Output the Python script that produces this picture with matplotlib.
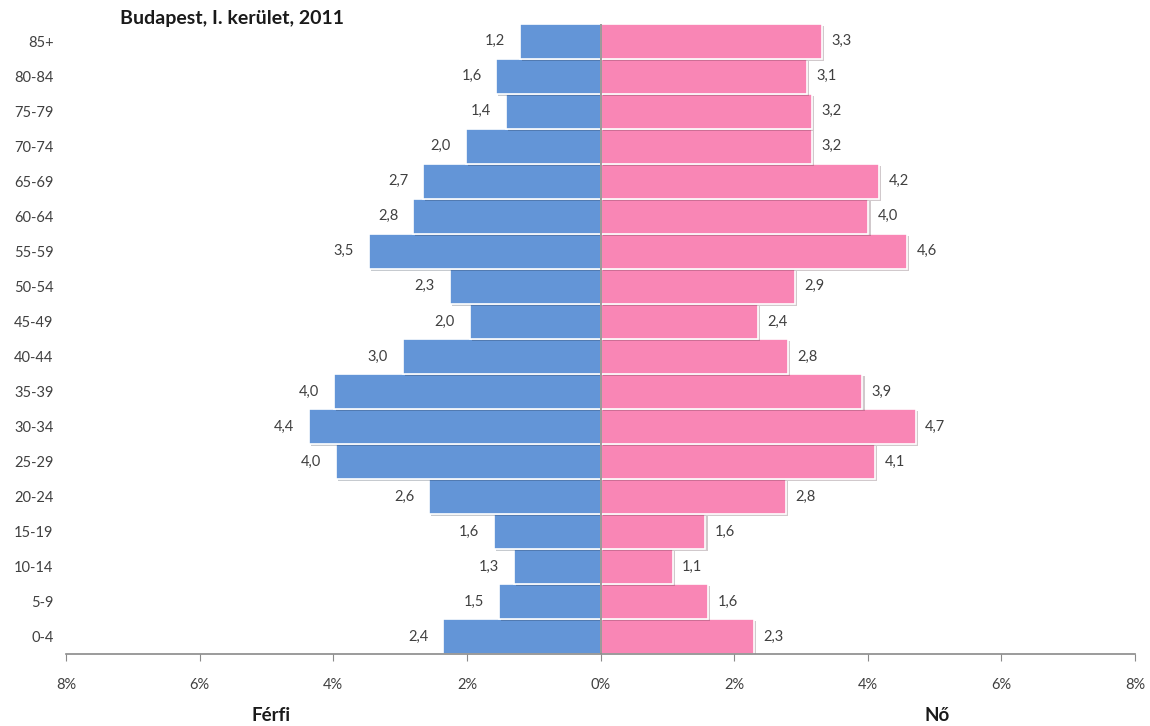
import matplotlib.pyplot as plt
import matplotlib.patheffects as pe

plt.rcParams['font.family'] = ['Lato', 'DejaVu Sans']

korcsoport = ['0-4', '5-9', '10-14', '15-19', '20-24', '25-29', '30-34', '35-39',
              '40-44', '45-49', '50-54', '55-59', '60-64', '65-69', '70-74',
              '75-79', '80-84', '85+']
ferfi = [2.36, 1.52, 1.30, 1.60, 2.57, 3.96, 4.36, 3.99, 2.96, 1.96, 2.26,
         3.47, 2.81, 2.66, 2.02, 1.42, 1.56, 1.21]
no = [2.30, 1.61, 1.08, 1.57, 2.78, 4.11, 4.72, 3.92, 2.81, 2.36, 2.91,
      4.59, 4.01, 4.17, 3.17, 3.17, 3.09, 3.32]
xticks = [-8, -6, -4, -2, 0, 2, 4, 6, 8]

kek = '#6395D7'
rozsa = '#F986B5'
szoveg = '#404040'

fig = plt.figure(figsize=(11.5, 7.26), dpi=100)
ax = fig.add_axes([0.0574, 0.0992, 0.9296, 0.868])

arnyek = [pe.SimplePatchShadow(offset=(1.5, -1.5), alpha=0.25), pe.Normal()]
y = range(len(korcsoport))
b1 = ax.barh(y, [-v for v in ferfi], height=1.0, color=kek, edgecolor='white', linewidth=1.2)
b2 = ax.barh(y, no, height=1.0, color=rozsa, edgecolor='white', linewidth=1.2)
for b in list(b1) + list(b2):
    b.set_path_effects(arnyek)

for i, (f, n) in enumerate(zip(ferfi, no)):
    ax.text(-f - 0.22, i, f"{f:.1f}".replace('.', ','), ha='right', va='center',
            fontsize=10.5, color=szoveg)
    ax.text(n + 0.14, i, f"{n:.1f}".replace('.', ','), ha='left', va='center',
            fontsize=10.5, color=szoveg)

ax.axvline(0, color='#8a8a8a', linewidth=1.2, zorder=5)

ax.set_xlim(-8, 8)
ax.set_ylim(-0.5, len(korcsoport) - 0.5)
ax.set_xticks(xticks)
ax.set_xticklabels([f"{abs(t)}%" for t in xticks], fontsize=10.5, color=szoveg)
ax.set_yticks(list(y))
ax.set_yticklabels(korcsoport, fontsize=10.5, color=szoveg)
ax.tick_params(axis='y', length=0, pad=9)
ax.tick_params(axis='x', length=5, color='#8a8a8a', pad=12)
for s in ['top', 'right', 'left']:
    ax.spines[s].set_visible(False)
ax.spines['bottom'].set_color('#8a8a8a')
ax.spines['bottom'].set_linewidth(1.2)

fig.text(0.104, 0.975, 'Budapest, I. kerület, 2011', fontsize=14, fontweight='bold',
         color='#1a1a1a', va='center', ha='left')
fig.text(0.236, 0.015, 'Férfi', fontsize=13.5, fontweight='bold', color='#1a1a1a',
         ha='center', va='center')
fig.text(0.815, 0.015, 'Nő', fontsize=13.5, fontweight='bold', color='#1a1a1a',
         ha='center', va='center')

fig.savefig('out.png', dpi=100)
